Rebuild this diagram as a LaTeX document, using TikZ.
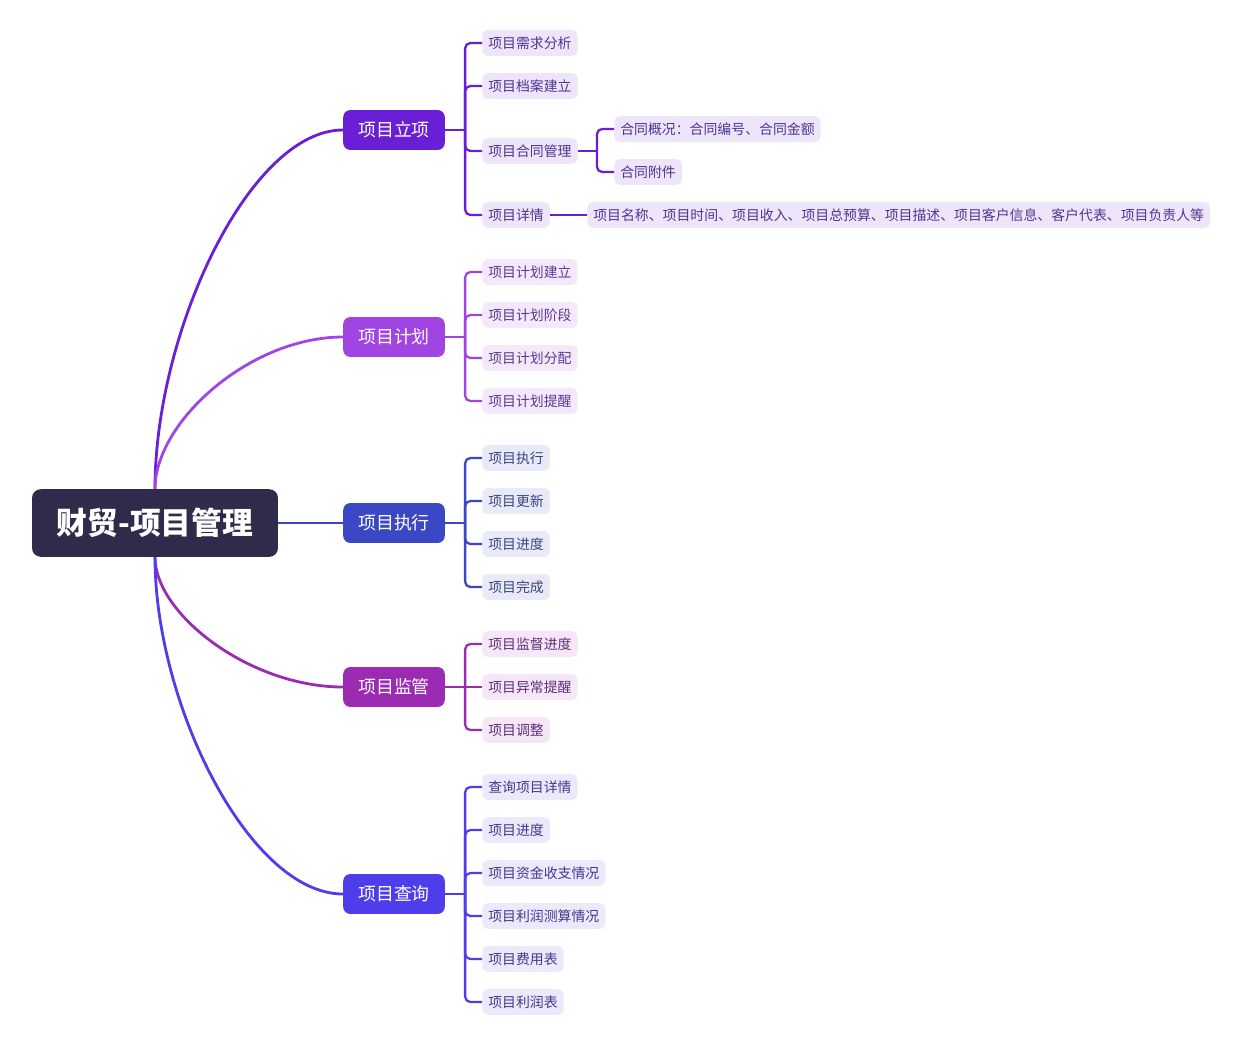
\documentclass[tikz,border=0pt]{standalone}
\usepackage{fontspec}
\setmainfont{Noto Sans CJK SC}
\usetikzlibrary{calc}
\usetikzlibrary{positioning}

\definecolor{rootc}{HTML}{2F2C4B}
\definecolor{colA}{HTML}{6A1FD6}
\definecolor{colB}{HTML}{A045E2}
\definecolor{colC}{HTML}{3A48C5}
\definecolor{colD}{HTML}{9C2BB3}
\definecolor{colE}{HTML}{4E3DEA}
\definecolor{fillA}{HTML}{EEE5FB}
\definecolor{fillB}{HTML}{F3E8FC}
\definecolor{fillC}{HTML}{E8EAF8}
\definecolor{fillD}{HTML}{F6E7F8}
\definecolor{fillE}{HTML}{ECE9FC}
\definecolor{txtA}{HTML}{4E3590}
\definecolor{txtB}{HTML}{5E3A8A}
\definecolor{txtC}{HTML}{3C4582}
\definecolor{txtD}{HTML}{5F2F78}
\definecolor{txtE}{HTML}{43398A}

\tikzset{
  rootbox/.style={fill=rootc, text=white, rounded corners=5pt,
    minimum width=140pt, minimum height=38.5pt,
    font=\fontsize{17.5}{20}\selectfont\bfseries},
  branch/.style={fill=#1, text=white, rounded corners=4pt,
    minimum width=57.8pt, minimum height=22.7pt, inner sep=0pt,
    font=\fontsize{10.2}{12}\selectfont},
  leaf/.style={rounded corners=3pt, minimum height=14.7pt,
    inner xsep=3.4pt, inner ysep=0pt, anchor=west,
    font=\fontsize{7.9}{9}\selectfont},
  lfA/.style={leaf, fill=fillA, text=txtA},
  lfB/.style={leaf, fill=fillB, text=txtB},
  lfC/.style={leaf, fill=fillC, text=txtC},
  lfD/.style={leaf, fill=fillD, text=txtD},
  lfE/.style={leaf, fill=fillE, text=txtE},
  crv/.style={draw=#1, line width=1.6pt},
  lnk/.style={draw=#1, line width=1.3pt},
  arm/.style={draw=#1, line width=1.3pt, rounded corners=3pt},
}

\begin{document}
\begin{tikzpicture}[x=0.02cm, y=-0.02cm]
  \useasboundingbox (0,0) rectangle (1244,1046);

  % Zentrum
  \node[rootbox] (root) at (155,523) {财贸-项目管理};

  % Hauptaeste
  \node[branch=colA] (b1) at (394,130) {项目立项};
  \node[branch=colB] (b2) at (394,337) {项目计划};
  \node[branch=colC] (b3) at (394,523) {项目执行};
  \node[branch=colD] (b4) at (394,687) {项目监管};
  \node[branch=colE] (b5) at (394,894) {项目查询};

  \draw[crv=colA] (root.north) .. controls +(0,-158) and +(-93,0) .. (b1.west);
  \draw[crv=colB] (root.north) .. controls +(0,-67) and +(-93,0) .. (b2.west);
  \draw[crv=colC] (root.east) -- (b3.west);
  \draw[crv=colD] (root.south) .. controls +(0,57) and +(-93,0) .. (b4.west);
  \draw[crv=colE] (root.south) .. controls +(0,148) and +(-93,0) .. (b5.west);

  % Verzweigungspunkte
  \coordinate (t1) at ($(b1.east)+(20,0)$);
  \coordinate (t2) at ($(b2.east)+(20,0)$);
  \coordinate (t3) at ($(b3.east)+(20,0)$);
  \coordinate (t4) at ($(b4.east)+(20,0)$);
  \coordinate (t5) at ($(b5.east)+(20,0)$);

  % Projekt anlegen
  \node[lfA] (a1) at (482,43) {项目需求分析};
  \node[lfA] (a2) at (482,86) {项目档案建立};
  \node[lfA] (a3) at (482,151) {项目合同管理};
  \node[lfA] (a4) at (482,215) {项目详情};
  \node[lfA] (a31) at (614,129) {合同概况：合同编号、合同金额};
  \node[lfA] (a32) at (614,172) {合同附件};
  \node[lfA] (a41) at (587,215) {项目名称、项目时间、项目收入、项目总预算、项目描述、项目客户信息、客户代表、项目负责人等};
  \coordinate (t31) at ($(a3.east)+(19,0)$);

  \draw[lnk=colA] (b1.east) -- (t1);
  \draw[arm=colA] (t1) |- (a1.west);
  \draw[arm=colA] (t1) |- (a2.west);
  \draw[arm=colA] (t1) |- (a3.west);
  \draw[arm=colA] (t1) |- (a4.west);
  \draw[lnk=colA] (a3.east) -- (t31);
  \draw[arm=colA] (t31) |- (a31.west);
  \draw[arm=colA] (t31) |- (a32.west);
  \draw[lnk=colA] (a4.east) -- (a41.west);

  % Planung
  \node[lfB] (p1) at (482,272) {项目计划建立};
  \node[lfB] (p2) at (482,315) {项目计划阶段};
  \node[lfB] (p3) at (482,358) {项目计划分配};
  \node[lfB] (p4) at (482,401) {项目计划提醒};
  \draw[lnk=colB] (b2.east) -- (t2);
  \draw[arm=colB] (t2) |- (p1.west);
  \draw[arm=colB] (t2) |- (p2.west);
  \draw[arm=colB] (t2) |- (p3.west);
  \draw[arm=colB] (t2) |- (p4.west);

  % Ausfuehrung
  \node[lfC] (e1) at (482,458) {项目执行};
  \node[lfC] (e2) at (482,501) {项目更新};
  \node[lfC] (e3) at (482,544) {项目进度};
  \node[lfC] (e4) at (482,587) {项目完成};
  \draw[lnk=colC] (b3.east) -- (t3);
  \draw[arm=colC] (t3) |- (e1.west);
  \draw[arm=colC] (t3) |- (e2.west);
  \draw[arm=colC] (t3) |- (e3.west);
  \draw[arm=colC] (t3) |- (e4.west);

  % Ueberwachung
  \node[lfD] (m1) at (482,644) {项目监督进度};
  \node[lfD] (m2) at (482,687) {项目异常提醒};
  \node[lfD] (m3) at (482,730) {项目调整};
  \draw[lnk=colD] (b4.east) -- (t4);
  \draw[arm=colD] (t4) |- (m1.west);
  \draw[lnk=colD] (t4) -- (m2.west);
  \draw[arm=colD] (t4) |- (m3.west);

  % Abfrage
  \node[lfE] (q1) at (482,787) {查询项目详情};
  \node[lfE] (q2) at (482,830) {项目进度};
  \node[lfE] (q3) at (482,873) {项目资金收支情况};
  \node[lfE] (q4) at (482,916) {项目利润测算情况};
  \node[lfE] (q5) at (482,959) {项目费用表};
  \node[lfE] (q6) at (482,1002) {项目利润表};
  \draw[lnk=colE] (b5.east) -- (t5);
  \draw[arm=colE] (t5) |- (q1.west);
  \draw[arm=colE] (t5) |- (q2.west);
  \draw[arm=colE] (t5) |- (q3.west);
  \draw[arm=colE] (t5) |- (q4.west);
  \draw[arm=colE] (t5) |- (q5.west);
  \draw[arm=colE] (t5) |- (q6.west);
\end{tikzpicture}
\end{document}
